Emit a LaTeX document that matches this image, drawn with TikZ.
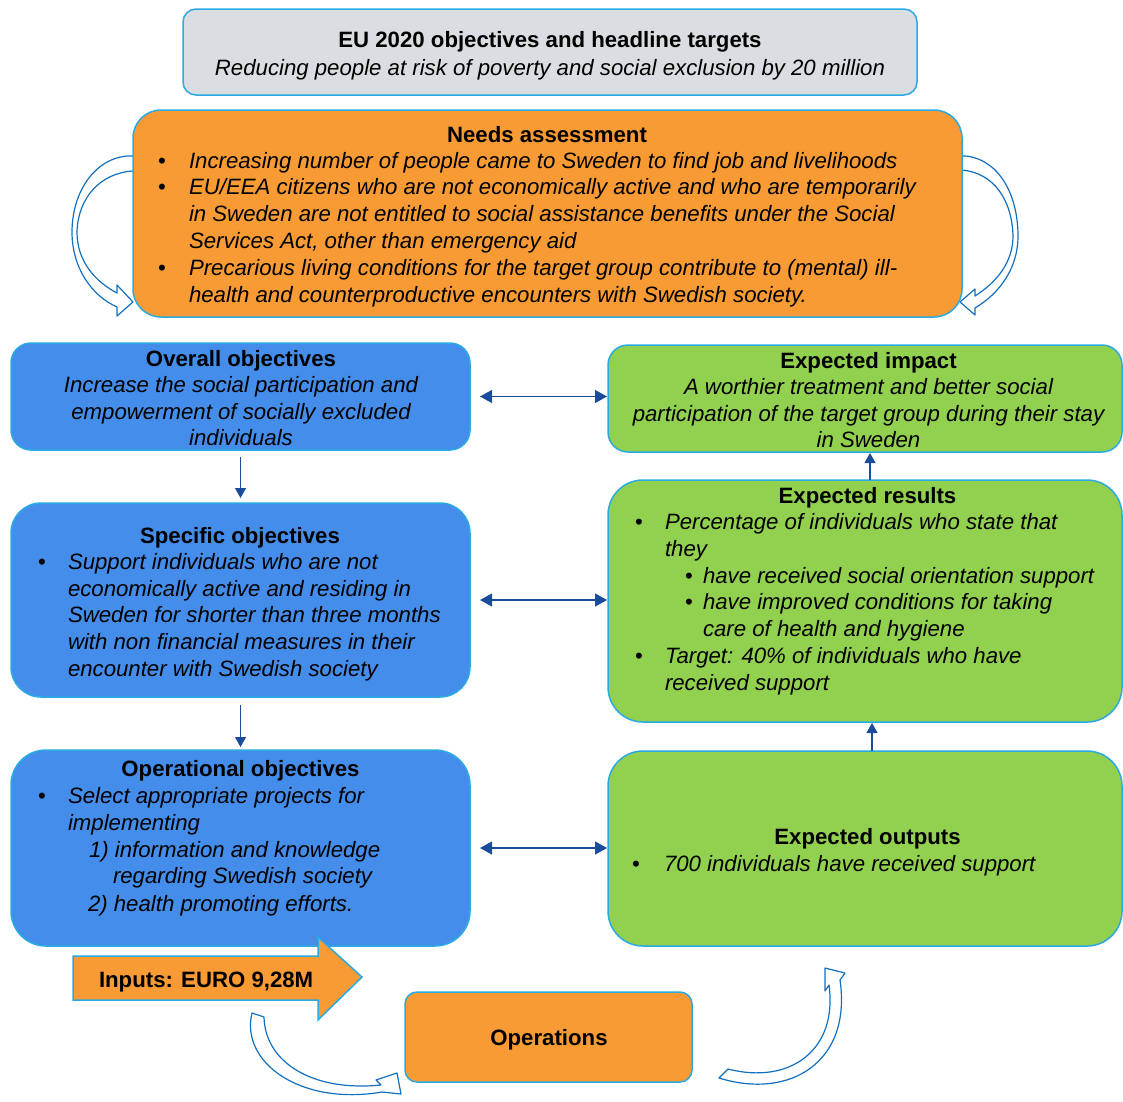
\documentclass[tikz,border=0pt]{standalone}
\usepackage{fontspec}
\setmainfont{Liberation Sans}
\usetikzlibrary{arrows.meta}

\definecolor{edgeblue}{HTML}{2AAAE2}
\definecolor{greybox}{HTML}{DADDE1}
\definecolor{orangebox}{HTML}{F89B34}
\definecolor{bluebox}{HTML}{448DEA}
\definecolor{greenbox}{HTML}{92D050}
\definecolor{linkblue}{HTML}{1A4C9C}
\definecolor{curveblue}{HTML}{1370BE}

\newcommand{\bodyfont}{\fontsize{22.2}{26.5}\selectfont}

\begin{document}
\begin{tikzpicture}[x=1pt,y=-1pt,
  every node/.style={inner sep=0pt, outer sep=0pt, font=\bodyfont},
  box/.style={draw=edgeblue, line width=1.5pt, rectangle},
  title/.style={font=\bodyfont\bfseries, anchor=base},
  line/.style={font=\bodyfont\itshape, anchor=base west},
  cline/.style={font=\bodyfont\itshape, anchor=base},
  bul/.style={font=\bodyfont, anchor=base west},
  dlink/.style={draw=linkblue, line width=1.2pt,
    {Triangle[length=12pt,width=13pt]}-{Triangle[length=12pt,width=13pt]}},
  vlink/.style={draw=linkblue, line width=1.2pt,
    -{Triangle[length=10pt,width=11pt]}},
  curvearrow/.style={draw=curveblue, fill=white, line width=1.2pt, line join=round}
]
\useasboundingbox (0,0) rectangle (1123,1101);

% curved arrows on both sides of the needs box
\draw[curvearrow] (145,156) -- (128,156) .. controls (95,158) and (72,192) .. (72,232)
  .. controls (72,268) and (92,296) .. (117,307) -- (117,316) -- (133,302) -- (117,285)
  -- (117,293) .. controls (96,282) and (77,262) .. (77,232)
  .. controls (78,198) and (100,173) .. (133,171) -- (145,171) -- cycle;
\draw[curvearrow] (950,156) -- (966,156) .. controls (1000,160) and (1018,196) .. (1018,236)
  .. controls (1018,268) and (1000,293) .. (975,308) -- (975,315) -- (960,302) -- (975,289)
  -- (975,296) .. controls (997,282) and (1013,262) .. (1013,236)
  .. controls (1012,200) and (994,173) .. (962,170) -- (950,170) -- cycle;

% boxes
\node[box, fill=greybox, rounded corners=13pt, minimum width=734pt, minimum height=86pt]
  (eu) at (550,52) {};
\node[box, fill=orangebox, rounded corners=28pt, minimum width=829pt, minimum height=207pt]
  (needs) at (547.5,213.5) {};
\node[box, fill=bluebox, rounded corners=20pt, minimum width=459pt, minimum height=107pt]
  (overall) at (240.5,396.5) {};
\node[box, fill=bluebox, rounded corners=30pt, minimum width=459pt, minimum height=194pt]
  (specific) at (240.5,600) {};
\node[box, fill=bluebox, rounded corners=35pt, minimum width=459pt, minimum height=196pt]
  (operational) at (240.5,848) {};
\node[box, fill=greenbox, rounded corners=20pt, minimum width=514pt, minimum height=107pt]
  (impact) at (865,398.5) {};
\node[box, fill=greenbox, rounded corners=35pt, minimum width=514pt, minimum height=242pt]
  (results) at (865,601) {};
\node[box, fill=greenbox, rounded corners=35pt, minimum width=514pt, minimum height=195pt]
  (outputs) at (865,848.5) {};
\node[box, fill=orangebox, rounded corners=12pt, minimum width=287pt, minimum height=90pt]
  (operations) at (548.5,1037) {};

% EU 2020 box text
\node[title] (euT) at (550,47) {EU 2020 objectives and headline targets};
\node[cline] (euS) at (550,75) {Reducing people at risk of poverty and social exclusion by 20 million};

% needs assessment text
\node[title] (needsT) at (547,142) {Needs assessment};
\node[bul] (nb1) at (158,168) {\textbullet};
\node[bul] (nb2) at (158,194) {\textbullet};
\node[bul] (nb3) at (158,275) {\textbullet};
\node[line] (n1) at (189,168) {Increasing number of people came to Sweden to find job and livelihoods};
\node[line] (n2) at (189,194) {EU/EEA citizens who are not economically active and who are temporarily};
\node[line] (n3) at (189,221) {in Sweden are not entitled to social assistance benefits under the Social};
\node[line] (n4) at (189,248) {Services Act, other than emergency aid};
\node[line] (n5) at (189,275) {Precarious living conditions for the target group contribute to (mental) ill-};
\node[line] (n6) at (189,302) {health and counterproductive encounters with Swedish society.};

% overall objectives text
\node[title] (overallT) at (241,366) {Overall objectives};
\node[cline] (o1) at (241,392) {Increase the social participation and};
\node[cline] (o2) at (241,419) {empowerment of socially excluded};
\node[cline] (o3) at (241,445) {individuals};

% specific objectives text
\node[title] (specificT) at (240,543) {Specific objectives};
\node[bul] (sb1) at (38,569) {\textbullet};
\node[line] (s1) at (68,569) {Support individuals who are not};
\node[line] (s2) at (68,596) {economically active and residing in};
\node[line] (s3) at (68,622) {Sweden for shorter than three months};
\node[line] (s4) at (68,649) {with non financial measures in their};
\node[line] (s5) at (68,676) {encounter with Swedish society};

% operational objectives text
\node[title] (operT) at (240.5,776) {Operational objectives};
\node[bul] (ob1) at (38,803) {\textbullet};
\node[line] (p1) at (68,803) {Select appropriate projects for};
\node[line] (p2) at (68,830) {implementing};
\node[line] (p3) at (89,857) {1) information and knowledge};
\node[line] (p4) at (113,883) {regarding Swedish society};
\node[line] (p5) at (88,911) {2) health promoting efforts.};

% expected impact text
\node[title] (impactT) at (868.5,368) {Expected impact};
\node[cline] (i1) at (868.5,394) {A worthier treatment and better social};
\node[cline] (i2) at (868.5,421) {participation of the target group during their stay};
\node[cline] (i3) at (868.5,447) {in Sweden};

% expected results text
\node[title] (resultsT) at (867.5,503) {Expected results};
\node[bul] (rb1) at (635,529) {\textbullet};
\node[line] (r1) at (665,529) {Percentage of individuals who state that};
\node[line] (r2) at (665,556) {they};
\node[bul] (rb2) at (685,583) {\textbullet};
\node[line] (r3) at (703,583) {have received social orientation support};
\node[bul] (rb3) at (685,609) {\textbullet};
\node[line] (r4) at (703,609) {have improved conditions for taking};
\node[line] (r5) at (703,636) {care of health and hygiene};
\node[bul] (rb4) at (635,663) {\textbullet};
\node[line] (r6) at (665,663) {Target: 40\% of individuals who have};
\node[line] (r7) at (665,690) {received support};

% expected outputs text
\node[title] (outputsT) at (867.5,844) {Expected outputs};
\node[bul] (ub1) at (632,871) {\textbullet};
\node[line] (u1) at (664,871) {700 individuals have received support};

% operations text
\node[title] (operationsT) at (549,1045) {Operations};

% connectors between the columns
\draw[dlink, shorten <=10pt, shorten >=1pt] (overall.east) -- (overall.east -| impact.west);
\draw[dlink, shorten <=10pt, shorten >=1pt] (specific.east) -- (specific.east -| results.west);
\draw[dlink, shorten <=10pt, shorten >=1pt] (operational.east) -- (operational.east -| outputs.west);

% vertical connectors
\draw[vlink, shorten <=7pt, shorten >=5pt] (overall.south) -- (specific.north);
\draw[vlink, shorten <=8pt, shorten >=3pt] (specific.south) -- (operational.north);
\draw[vlink, shorten >=1pt] ([xshift=5pt]results.north) -- ([xshift=5pt]results.north |- impact.south);
\draw[vlink, shorten >=1pt] ([xshift=7pt]outputs.north) -- ([xshift=7pt]outputs.north |- results.south);

% inputs block arrow
\draw[fill=orangebox, draw=edgeblue, line width=1.5pt, line join=miter]
  (73,956) -- (318,956) -- (318,937) -- (362,977) -- (318,1020) -- (318,1000) -- (73,1000) -- cycle;
\node[font=\bodyfont\bfseries, anchor=base west] (inputs) at (99,987) {Inputs: EURO 9,28M};

% curved arrows around the operations box
\draw[curvearrow] (252,1013) .. controls (240,1062) and (300,1106) .. (382,1092)
  -- (401,1094) -- (397,1073) -- (376,1080) -- (381,1085)
  .. controls (312,1092) and (265,1062) .. (264,1017) -- cycle;
\draw[curvearrow] (719,1078) .. controls (790,1100) and (852,1062) .. (840,980)
  -- (845,973) -- (825,968) -- (825,991) -- (829,985)
  .. controls (838,1050) and (790,1085) .. (728,1069) -- cycle;
\end{tikzpicture}
\end{document}
